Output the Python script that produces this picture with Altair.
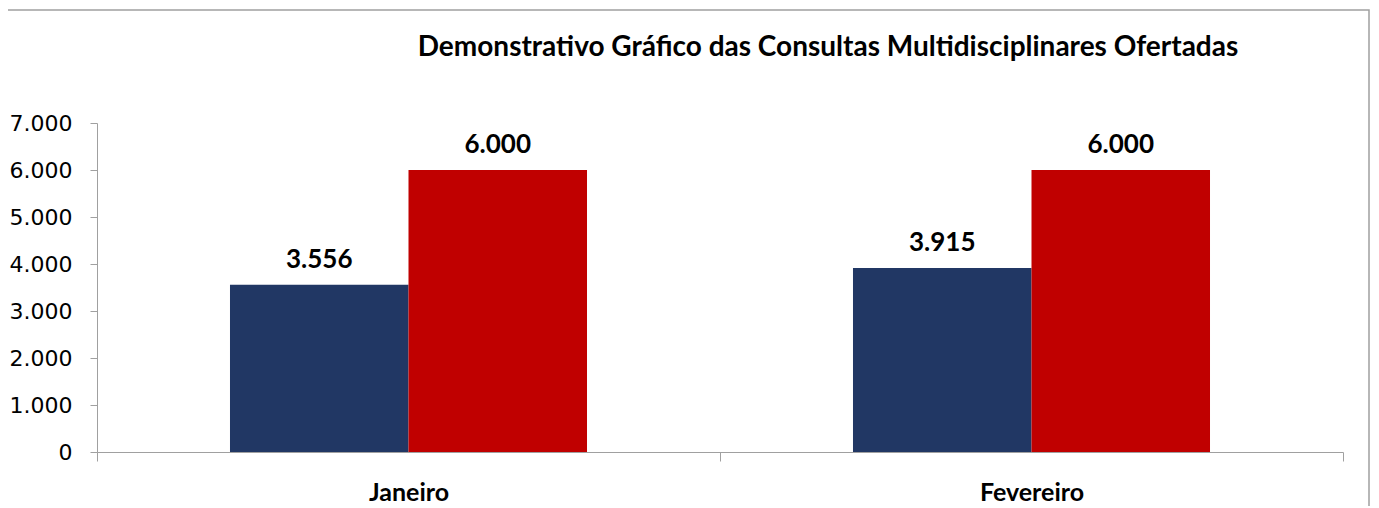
import altair as alt
import pandas as pd

months = ["Janeiro", "Fevereiro"]
series = ["Realizadas", "Ofertadas"]
realizadas = [3556, 3915]
ofertadas = [6000, 6000]
y_ticks = [0, 1000, 2000, 3000, 4000, 5000, 6000, 7000]
colors = ["#213764", "#C00000"]
title_text = "Demonstrativo Gráfico das Consultas Multidisciplinares Ofertadas"

rows = []
for m, r, o in zip(months, realizadas, ofertadas):
    rows.append({"mes": m, "serie": series[0], "valor": r})
    rows.append({"mes": m, "serie": series[1], "valor": o})
df = pd.DataFrame(rows)
df["rotulo"] = df["valor"].map(lambda v: f"{v:,}".replace(",", "."))

W, H = 1246, 329
GRAY = "#a0a0a0"

x = alt.X(
    "mes:N", sort=months, title=None,
    scale=alt.Scale(paddingInner=0, paddingOuter=0),
    axis=alt.Axis(labelAngle=0, tickBand="extent", tickSize=9, tickColor=GRAY,
                  domainColor=GRAY, labelFont="Lato", labelFontWeight="bold",
                  labelFontSize=25, labelColor="black", labelBaseline="alphabetic",
                  labelPadding=39),
)
xo = alt.XOffset("serie:N", sort=series,
                 scale=alt.Scale(paddingInner=0, paddingOuter=0.745))
y = alt.Y(
    "valor:Q", title=None, scale=alt.Scale(domain=[0, 7000]),
    axis=alt.Axis(values=y_ticks, labelExpr="replace(format(datum.value, ','), ',', '.')",
                  grid=False, tickSize=7, tickColor=GRAY, domainColor=GRAY,
                  labelFont="DejaVu Sans", labelFontSize=22, labelColor="black",
                  labelPadding=18),
)
color = alt.Color("serie:N", sort=series, legend=None,
                  scale=alt.Scale(domain=series, range=colors))

base = alt.Chart(df)
bars = base.mark_bar().encode(x=x, xOffset=xo, y=y, color=color)
labels = base.mark_text(dy=-17, baseline="alphabetic", font="Lato",
                        fontWeight="bold", fontSize=26, color="black").encode(
    x=x, xOffset=xo, y=y, text="rotulo:N")

frame = alt.Chart(pd.DataFrame({"k": [0]})).mark_rect(
    filled=False, stroke=GRAY, strokeWidth=1.5).encode(
    x=alt.value(-90), x2=alt.value(1272), y=alt.value(-113), y2=alt.value(420))

chart = alt.layer(frame, bars, labels).properties(
    width=W, height=H,
    title=alt.Title(title_text, font="Lato", fontSize=28, fontWeight="bold",
                    anchor="middle", baseline="alphabetic", dx=108, offset=-75,
                    color="black"),
    autosize=alt.AutoSizeParams(type="none"),
    padding={"left": 89, "top": 115, "right": 28, "bottom": 54},
).configure_view(strokeWidth=0)

chart.save("out.html", embed_options={"renderer": "svg", "actions": False})
